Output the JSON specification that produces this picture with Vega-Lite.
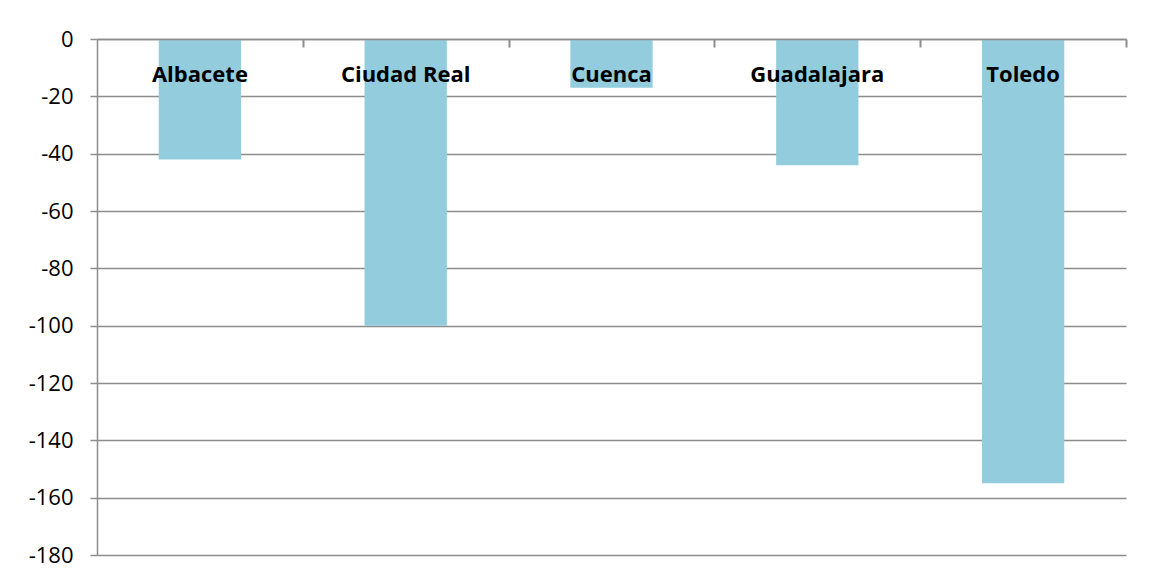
{
  "$schema": "https://vega.github.io/schema/vega-lite/v6.json",
  "width": 1029,
  "height": 516,
  "autosize": "none",
  "padding": {"left": 97, "top": 39, "right": 23, "bottom": 26},
  "background": "white",
  "config": {
    "view": {"stroke": null},
    "font": "Open Sans"
  },
  "data": {
    "values": [
      {"provincia": "Albacete", "valor": -42},
      {"provincia": "Ciudad Real", "valor": -100},
      {"provincia": "Cuenca", "valor": -17},
      {"provincia": "Guadalajara", "valor": -44},
      {"provincia": "Toledo", "valor": -155}
    ]
  },
  "encoding": {
    "x": {
      "field": "provincia",
      "type": "nominal",
      "sort": null,
      "scale": {"paddingInner": 0.6, "paddingOuter": 0.3},
      "axis": {
        "orient": "top",
        "title": null,
        "labels": false,
        "tickOffset": 102.9,
        "tickSize": -8,
        "tickColor": "#8c8c8c",
        "tickWidth": 2,
        "domainColor": "#8c8c8c",
        "domainWidth": 1.5,
        "zindex": 1
      }
    }
  },
  "layer": [
    {
      "mark": {"type": "bar", "color": "#93CDDD"},
      "encoding": {
        "y": {
          "field": "valor",
          "type": "quantitative",
          "scale": {"domain": [-180, 0], "nice": false},
          "axis": {
            "title": null,
            "values": [0, -20, -40, -60, -80, -100, -120, -140, -160, -180],
            "labelExpr": "'' + datum.value",
            "labelFontSize": 22,
            "labelColor": "black",
            "labelPadding": 17,
            "tickSize": 7,
            "tickColor": "#8c8c8c",
            "tickWidth": 1.5,
            "domainColor": "#8c8c8c",
            "domainWidth": 1.5,
            "grid": true,
            "gridColor": "#8c8c8c",
            "gridWidth": 1.5
          }
        }
      }
    },
    {
      "mark": {"type": "text", "fontWeight": "bold", "fontSize": 22, "color": "black", "baseline": "alphabetic", "dy": 43},
      "encoding": {
        "y": {"datum": 0, "type": "quantitative"},
        "text": {"field": "provincia"}
      }
    }
  ]
}
